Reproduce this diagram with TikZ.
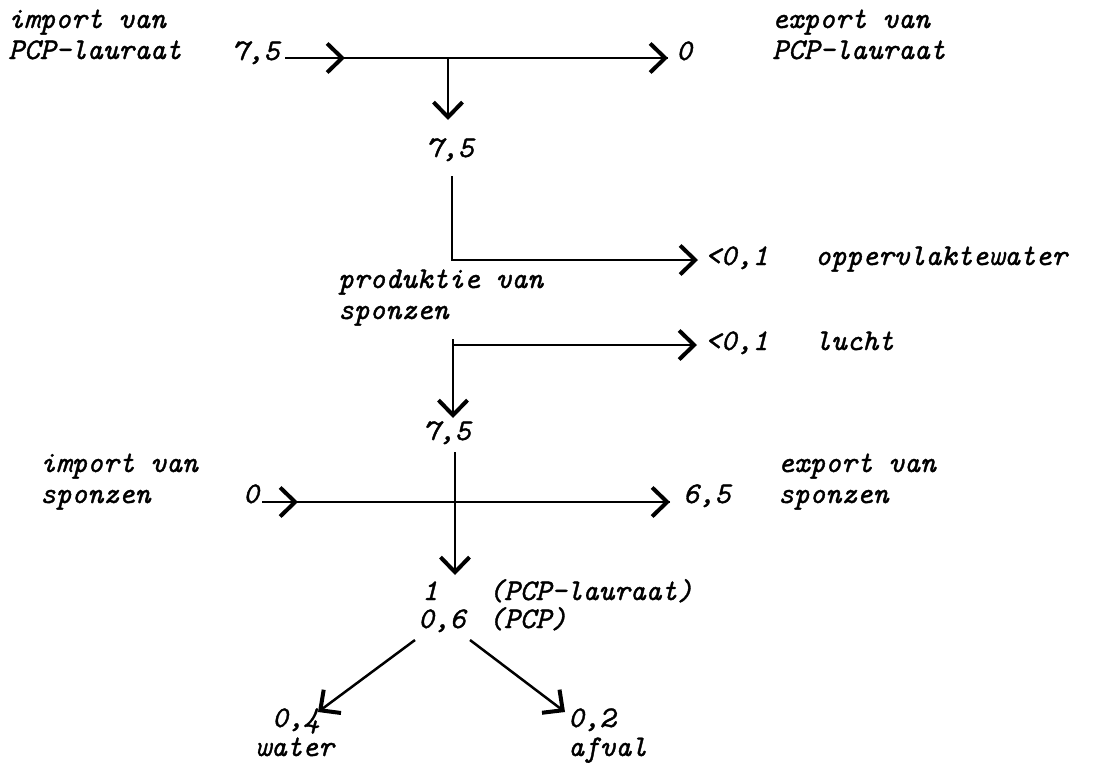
\documentclass[tikz,border=0pt]{standalone}
\usepackage{fontspec}
\newfontfamily\typew{Latin Modern Mono}[FakeBold=1.2]
\usetikzlibrary{arrows.meta}
\tikzset{
  lbl/.style={anchor=base west, inner sep=0pt, font=\typew\itshape\fontsize{30}{31}\selectfont},
  mid/.style={anchor=base, inner sep=0pt, font=\typew\itshape\fontsize{30}{31}\selectfont},
  flow/.style={line width=2.5pt},
  chev/.style={-{Straight Barb[length=15pt,width=29pt,line width=4pt]}}
}
\begin{document}
\begin{tikzpicture}[x=1pt,y=-1pt]
\useasboundingbox[fill=white] (0,0) rectangle (1095,763);

% ---- PCP-lauraat trade
\node[lbl] (impA1) at (8,28) {import van};
\node[lbl] (impA2) at (8,59) {PCP-lauraat};
\node[lbl] (inA)   at (232,60) {7,5};
\node[lbl] (outA)  at (676,60) {0};
\node[lbl] (expA1) at (772,28) {export van};
\node[lbl] (expA2) at (772,59) {PCP-lauraat};
\coordinate (tA) at (285,58);
\coordinate (hA) at (345,58);
\coordinate (eA) at (668,58);
\coordinate (jA) at (448,58);
\draw[flow] (tA) -- (eA);
\draw[flow,chev] (tA) -- (hA);
\draw[flow,chev] (hA) -- (eA);

% ---- into production
\node[mid] (useA) at (450,157) {7,5};
\coordinate (dA) at (448,120);
\draw[flow,chev] (jA) -- (dA);

\coordinate (sB) at (452,176);
\coordinate (cB) at (452,260);
\coordinate (eB) at (698,260);
\draw[flow,chev] (sB) -- (cB) -- (eB);
\node[lbl] (owv) at (705,265) {<0,1};
\node[lbl] (ow)  at (815,265) {oppervlaktewater};

\node[lbl] (prod1) at (338,288) {produktie van};
\node[lbl] (prod2) at (338,319) {sponzen};

\coordinate (sC) at (453,339);
\coordinate (cC) at (453,345);
\coordinate (eC) at (697,345);
\coordinate (dC) at (453,418);
\draw[flow] (sC) -- (cC);
\draw[flow,chev] (cC) -- (eC);
\draw[flow,chev] (cC) -- (dC);
\node[lbl] (luv) at (705,350) {<0,1};
\node[lbl] (lu)  at (815,350) {lucht};

\node[mid] (spB) at (447,440) {7,5};

% ---- sponge trade
\node[lbl] (impB1) at (40,472) {import van};
\node[lbl] (impB2) at (40,503) {sponzen};
\node[lbl] (inB)   at (243,503) {0};
\node[lbl] (outB)  at (683,503) {6,5};
\node[lbl] (expB1) at (778,472) {export van};
\node[lbl] (expB2) at (778,503) {sponzen};
\coordinate (tD) at (262,502);
\coordinate (hD) at (298,502);
\coordinate (eD) at (670,502);
\draw[flow] (tD) -- (eD);
\draw[flow,chev] (tD) -- (hD);
\draw[flow,chev] (hD) -- (eD);

\coordinate (sE) at (455,452);
\coordinate (dE) at (455,575);
\draw[flow,chev] (sE) -- (dE);

% ---- use of sponges
\node[lbl] (u1)  at (422,600) {1};
\node[lbl] (u1t) at (488,600) {(PCP-lauraat)};
\node[lbl] (u2)  at (418,628) {0,6};
\node[lbl] (u2t) at (488,628) {(PCP)};

\coordinate (sL) at (415,640);
\coordinate (eL) at (318,712);
\coordinate (sR) at (470,640);
\coordinate (eR) at (565,712);
\draw[flow,chev] (sL) -- (eL);
\draw[flow,chev] (sR) -- (eR);

\node[lbl] (wv) at (272,727) {0,4};
\node[lbl] (w)  at (255,756) {water};
\node[lbl] (av) at (568,727) {0,2};
\node[lbl] (a)  at (568,756) {afval};
\end{tikzpicture}
\end{document}
